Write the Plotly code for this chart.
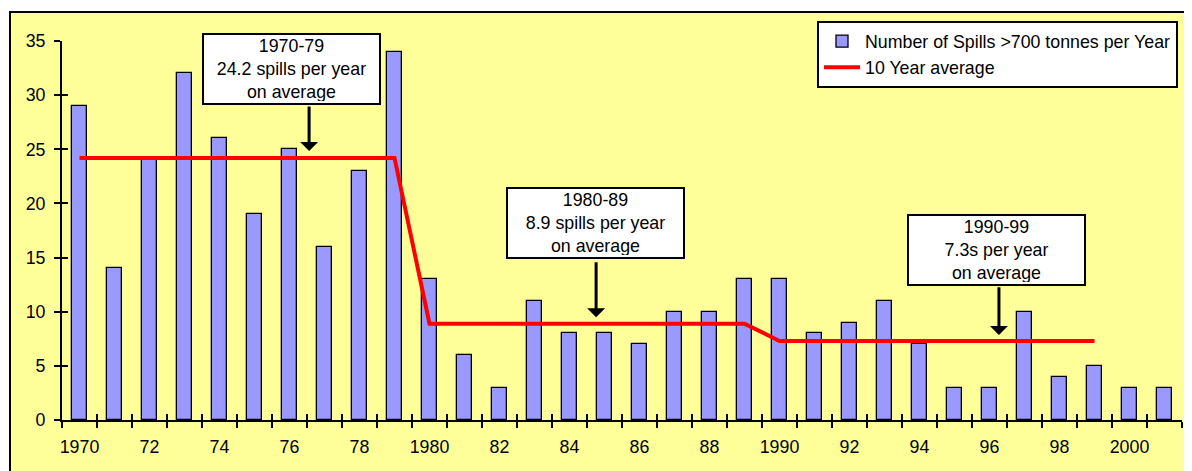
import plotly.graph_objects as go

years = list(range(1970, 2002))
spills = [29, 14, 24, 32, 26, 19, 25, 16, 23, 34,
          13, 6, 3, 11, 8, 8, 7, 10, 10, 13,
          13, 8, 9, 11, 7, 3, 3, 10, 4, 5,
          3, 3]
avg_years = list(range(1970, 2000))
avg_values = [24.2] * 10 + [8.9] * 10 + [7.3] * 10
tick_years = list(range(1970, 2001, 2))
tick_text = ["1970", "72", "74", "76", "78", "1980", "82", "84", "86", "88",
             "1990", "92", "94", "96", "98", "2000"]
y_ticks = [0, 5, 10, 15, 20, 25, 30, 35]
boundaries = [y - 0.5 for y in range(1970, 2003)]

FONT = "Liberation Sans, Arial, sans-serif"
FS = 17.8

# page body has an 8px margin; figure sized to fit the 1192x471 window
W, H = 1184, 463
L, R, T, B = 54, 10, 33, 51
PW = W - L - R
PH = H - T - B

fig = go.Figure()
fig.add_trace(go.Bar(
    x=years, y=spills, width=0.42,
    marker=dict(color="#9999FF", line=dict(color="black", width=1.3)),
    name="Number of Spills >700 tonnes per Year",
))
fig.add_trace(go.Scatter(
    x=avg_years, y=avg_values, mode="lines",
    line=dict(color="#FF0000", width=4),
    name="10 Year average",
))
# invisible trace to create overlay axes (inside halves of crossing ticks)
fig.add_trace(go.Scatter(x=[1970], y=[0], xaxis="x2", yaxis="y2",
                         mode="markers", marker=dict(opacity=0),
                         showlegend=False, hoverinfo="skip"))

xr = [1969.5, 2001.5]
yr = [0, 35]

fig.update_layout(
    width=W, height=H,
    margin=dict(l=L, r=R, t=T, b=B),
    paper_bgcolor="white",
    plot_bgcolor="rgba(0,0,0,0)",
    font=dict(family=FONT, size=FS, color="black"),
    showlegend=True,
    bargap=0,
    xaxis=dict(
        range=xr, tickmode="array", tickvals=tick_years, ticktext=tick_text,
        ticks="", showgrid=False, zeroline=False,
        showline=True, linecolor="black", linewidth=2,
        ticklabelstandoff=10,
        minor=dict(tickmode="array", tickvals=boundaries, ticks="outside",
                   ticklen=6, tickwidth=2, tickcolor="black", showgrid=False),
        tickfont=dict(family=FONT, size=FS),
    ),
    yaxis=dict(
        range=yr, tickmode="array", tickvals=y_ticks,
        ticks="outside", ticklen=6, tickwidth=2, tickcolor="black",
        showgrid=False, zeroline=False,
        showline=True, linecolor="black", linewidth=2,
        ticklabelstandoff=5,
        tickfont=dict(family=FONT, size=FS),
    ),
    xaxis2=dict(
        range=xr, overlaying="x", anchor="y", side="bottom",
        tickmode="array", tickvals=boundaries, ticks="inside",
        ticklen=6, tickwidth=2, tickcolor="black",
        showticklabels=False, showgrid=False, zeroline=False, showline=False,
    ),
    yaxis2=dict(
        range=yr, overlaying="y", anchor="x", side="left",
        tickmode="array", tickvals=y_ticks, ticks="inside",
        ticklen=6, tickwidth=2, tickcolor="black",
        showticklabels=False, showgrid=False, zeroline=False, showline=False,
    ),
    legend=dict(
        x=(1178 - 8 - L) / PW, y=(PH + T - (21 - 8)) / PH,
        xanchor="right", yanchor="top",
        bgcolor="white", bordercolor="black", borderwidth=2,
        font=dict(family=FONT, size=FS), itemwidth=36,
        tracegroupgap=0,
    ),
)

# chart-area background with border (top and left edges visible)
fig.add_shape(type="rect", xref="paper", yref="paper",
              x0=(2 - L) / PW, x1=1.2, y0=-0.5, y1=(PH + T - 4) / PH,
              fillcolor="#FFFF99", line=dict(color="black", width=2),
              layer="below")

box_font = dict(family=FONT, size=FS, color="black")
boxes = [
    (1976.06, 32.4, "1970-79<br>24.2 spills per year<br>on average"),
    (1984.74, 18.15, "1980-89<br>8.9 spills per year<br>on average"),
    (1996.2, 15.7, "1990-99<br>7.3s per year<br>on average"),
]
for bx, by, txt in boxes:
    fig.add_annotation(x=bx, y=by, xref="x", yref="y", text=txt,
                       showarrow=False, font=box_font, align="center",
                       bgcolor="white", bordercolor="black", borderwidth=2,
                       borderpad=2, width=171, height=64)

arrows = [
    (1976.56, 29.1, 24.85),
    (1984.76, 14.7, 9.5),
    (1996.27, 12.4, 7.85),
]
for axx, tail, tip in arrows:
    fig.add_annotation(x=axx, y=tip, ax=axx, ay=tail, xref="x", yref="y",
                       axref="x", ayref="y", text="", showarrow=True,
                       arrowhead=1, arrowsize=1.0, arrowwidth=3,
                       arrowcolor="black", standoff=0, startstandoff=0)

fig.write_html("out.html")
